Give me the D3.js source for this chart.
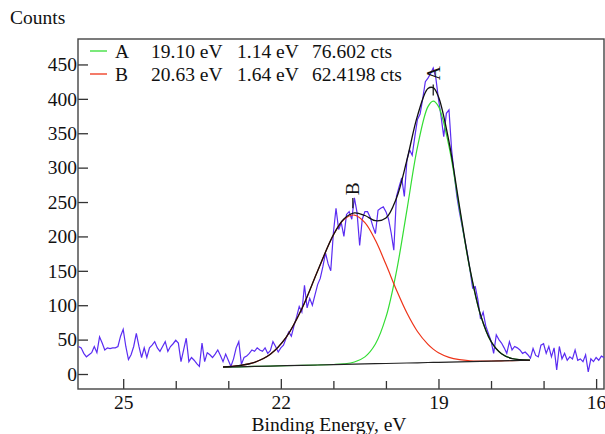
<!DOCTYPE html>
<html>
<head>
<meta charset="utf-8">
<script src="https://cdnjs.cloudflare.com/ajax/libs/d3/7.8.5/d3.min.js"></script>
<style>
  body { margin: 0; background: #fff; }
  text { font-family: "Liberation Serif", "Times New Roman", serif; fill: #111; }
</style>
</head>
<body>
<div id="chart"></div>
<script>
// measured spectrum, 0.05 eV steps from 25.85 eV down to 15.85 eV
var startEnergy = 25.85, stepEnergy = 0.05;
var counts = [
  40,38,30,25,28,31,40,31,54,45,
  35,38,37,38,38,40,55,65,40,21,
  28,40,59,40,24,38,24,38,42,47,
  38,33,40,47,33,40,44,49,45,18,
  35,52,18,24,20,15,11,45,18,31,
  28,24,29,35,27,18,29,20,11,22,
  38,47,14,24,26,30,35,33,38,35,
  33,38,30,34,47,40,32,38,42,52,
  61,55,70,83,98,90,129,96,110,100,
  115,130,139,156,176,160,150,205,241,210,
  220,200,232,236,225,256,235,187,225,236,
  236,228,215,204,238,241,243,236,225,205,
  180,258,272,285,258,311,326,318,345,370,
  378,400,425,430,437,445,430,400,374,345,
  379,384,326,290,258,235,215,195,175,151,
  125,127,108,80,90,70,59,48,30,57,
  50,45,38,30,47,35,40,38,35,30,
  32,28,23,37,27,25,42,44,30,40,
  25,38,6,40,22,30,20,25,22,35,
  20,22,18,28,3,22,18,24,20,26,
  24
];

// fit components
var fitEnergy = [23.1, 22.8, 22.5, 22.2, 21.9, 21.6, 21.3, 21.0, 20.8, 20.6, 20.4, 20.2, 20.0,
                 19.8, 19.6, 19.4, 19.2, 19.1, 19.0, 18.8, 18.6, 18.4, 18.2, 18.0, 17.8, 17.6, 17.26];
var fitBackground = [10, 10.5, 11.0, 11.5, 12.1, 12.6, 13.1, 13.6, 13.9, 14.3, 14.6, 15.0, 15.3,
                     15.6, 16.0, 16.3, 16.7, 16.8, 17.0, 17.4, 17.7, 18.0, 18.4, 18.7, 19.1, 19.4, 20.0];
var fitA = [0, 0, 0, 0, 0, 0, 0, 0.2, 0.8, 3.1, 10.3, 28.6, 67.3,
            133.4, 222.7, 313.5, 372, 380, 372, 313.5, 222.7, 133.4, 67.3, 28.6, 10.3, 3.1, 0.3];
var fitB = [0.4, 1.7, 5.9, 17.1, 41.0, 82.2, 136.6, 188.4, 210.6, 216.8, 205.5, 179.3, 144.1,
            106.6, 72.6, 45.5, 26.3, 19.4, 14.0, 6.8, 3.1, 1.3, 0.5, 0.2, 0.1, 0, 0];

var peakNames = ["A", "B"];
var peakCenters = ["19.10", "20.63"];
var peakWidths = ["1.14", "1.64"];
var peakAreas = ["76.602", "62.4198"];
var peakColors = ["#33dd33", "#ee3318"];
var markerLow = [405, 241];
var markerHigh = [421, 256];
var labelAt = [427, 260];

var majorTicks = [25, 22, 19, 16];
var minorTicks = [24, 23, 21, 20, 18, 17];
var yTicks = [0, 50, 100, 150, 200, 250, 300, 350, 400, 450];

var W = 605, H = 434;
var plotLeft = 78, plotRight = 604, plotTop = 39, plotBottom = 389;

var svg = d3.select("#chart").append("svg")
    .attr("width", W)
    .attr("height", H);

var x = d3.scaleLinear().domain([25.86, 15.85]).range([plotLeft, plotRight]);
var y = d3.scaleLinear().domain([-21.8, 487]).range([plotBottom, plotTop]);

var spectrum = counts.map(function(c, i) {
    return {e: startEnergy - i * stepEnergy, v: c};
});

// axes
var fontSize = "19.5px";
svg.append("g")
    .attr("transform", "translate(0," + plotBottom + ")")
    .call(d3.axisBottom(x).tickValues(majorTicks).tickFormat(d3.format("d"))
        .tickSizeInner(-10).tickSizeOuter(0).tickPadding(6));
svg.append("g")
    .attr("transform", "translate(0," + plotBottom + ")")
    .call(d3.axisBottom(x).tickValues(minorTicks).tickFormat("")
        .tickSizeInner(-8).tickSizeOuter(0));
svg.append("g")
    .attr("transform", "translate(" + plotLeft + ",0)")
    .call(d3.axisLeft(y).tickValues(yTicks)
        .tickSizeInner(-10).tickSizeOuter(0).tickPadding(1));
svg.selectAll(".domain").remove();
svg.selectAll(".tick line").attr("stroke", "#333").attr("stroke-width", 1.3);
svg.selectAll(".tick text")
    .style("font-family", "'Liberation Serif', serif")
    .style("font-size", fontSize)
    .attr("fill", "#111");

svg.append("rect")
    .attr("x", plotLeft).attr("y", plotTop)
    .attr("width", plotRight - plotLeft).attr("height", plotBottom - plotTop)
    .attr("fill", "none")
    .attr("stroke", "#444")
    .attr("stroke-width", 1.4);

svg.append("text")
    .attr("x", 10).attr("y", 24)
    .style("font-size", fontSize)
    .text("Counts");
svg.append("text")
    .attr("x", 329).attr("y", 431)
    .style("text-anchor", "middle")
    .style("font-size", fontSize)
    .text("Binding Energy, eV");

// spectrum
var line = d3.line()
    .x(function(d) { return x(d.e); })
    .y(function(d) { return y(d.v); });

svg.append("path")
    .datum(spectrum)
    .attr("d", line)
    .attr("fill", "none")
    .attr("stroke", "#5a2cf2")
    .attr("stroke-width", 1.2);

// fit curves
var smooth = d3.line()
    .x(function(d) { return x(d.e); })
    .y(function(d) { return y(d.v); })
    .curve(d3.curveCatmullRom);

var bgData = fitEnergy.map(function(e, i) { return {e: e, v: fitBackground[i]}; });
var aData = fitEnergy.map(function(e, i) { return {e: e, v: fitBackground[i] + fitA[i]}; });
var bData = fitEnergy.map(function(e, i) { return {e: e, v: fitBackground[i] + fitB[i]}; });
var envData = fitEnergy.map(function(e, i) { return {e: e, v: fitBackground[i] + fitA[i] + fitB[i]}; });

svg.append("path").datum(aData).attr("d", smooth)
    .attr("fill", "none").attr("stroke", peakColors[0]).attr("stroke-width", 1.2);
svg.append("path").datum(bData).attr("d", smooth)
    .attr("fill", "none").attr("stroke", peakColors[1]).attr("stroke-width", 1.2);
svg.append("path").datum(bgData).attr("d", line)
    .attr("fill", "none").attr("stroke", "#222").attr("stroke-width", 1.2);
svg.append("path").datum(envData).attr("d", smooth)
    .attr("fill", "none").attr("stroke", "#111").attr("stroke-width", 1.3);

// peak markers
peakNames.forEach(function(name, i) {
    var cx = x(+peakCenters[i]);
    svg.append("line")
        .attr("x1", cx).attr("x2", cx)
        .attr("y1", y(markerLow[i])).attr("y2", y(markerHigh[i]))
        .attr("stroke", "#111").attr("stroke-width", 1.2);
    svg.append("text")
        .attr("transform", "translate(" + (cx + 6.5) + "," + y(labelAt[i]) + ") rotate(-90)")
        .style("font-size", fontSize)
        .text(name);
});

// legend
peakNames.forEach(function(name, i) {
    var ly = 51 + i * 23;
    svg.append("line")
        .attr("x1", 90).attr("x2", 107)
        .attr("y1", ly).attr("y2", ly)
        .attr("stroke", peakColors[i]).attr("stroke-width", 1.3);
    var row = svg.append("g").style("font-size", fontSize);
    row.append("text").attr("x", 115).attr("y", ly + 7).text(name);
    row.append("text").attr("x", 151).attr("y", ly + 7).text(peakCenters[i] + " eV");
    row.append("text").attr("x", 237).attr("y", ly + 7).text(peakWidths[i] + " eV");
    row.append("text").attr("x", 312).attr("y", ly + 7).text(peakAreas[i] + " cts");
});
</script>
</body>
</html>
